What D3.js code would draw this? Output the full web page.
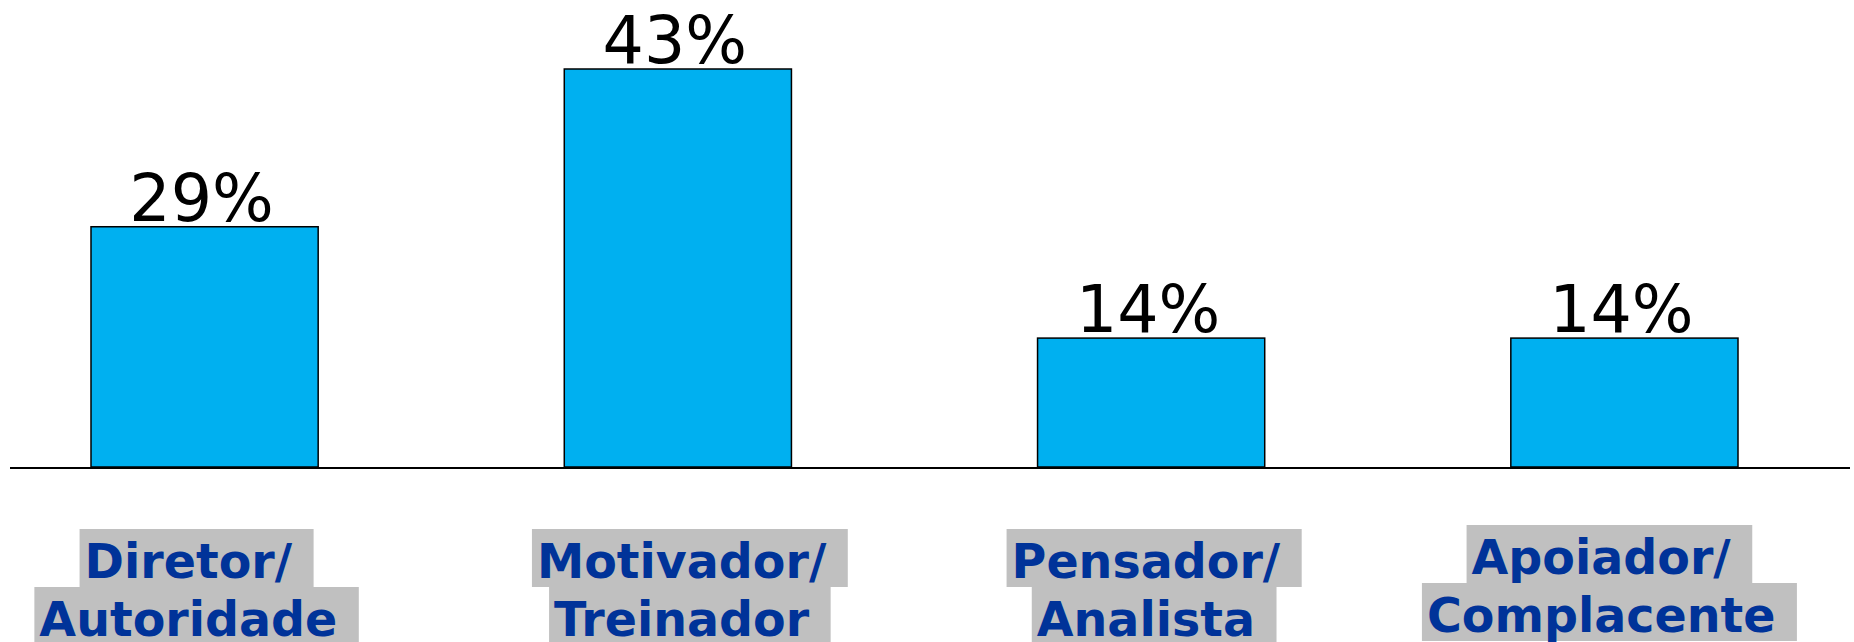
<!DOCTYPE html>
<html>
<head>
<meta charset="utf-8">
<script src="https://cdn.jsdelivr.net/npm/d3@7"></script>
<style>
  html, body { margin: 0; padding: 0; background: #fff; }
  svg { display: block; }
</style>
</head>
<body>
<div id="chart"></div>
<script>
// categories (two lines each, trailing space kept like the source)
var categories = ["Diretor/ Autoridade", "Motivador/ Treinador", "Pensador/ Analista", "Apoiador/ Complacente"];
var categoryLines = [["Diretor/ ", "Autoridade "], ["Motivador/ ", "Treinador "], ["Pensador/ ", "Analista "], ["Apoiador/ ", "Complacente "]];
// bar heights as drawn in the picture (percent)
var barValues = [26, 43, 14, 14];
// value labels printed above the bars
var valueLabels = ["29%", "43%", "14%", "14%"];

var width = 1854, height = 642;
var baseY = 468;

var svg = d3.select("#chart")
    .append("svg")
    .attr("width", width)
    .attr("height", height);

var x = d3.scaleBand()
    .domain(categories)
    .range([91, 1738])
    .paddingInner(0.52)
    .paddingOuter(0);

var y = d3.scaleLinear()
    .domain([0, 43])
    .range([baseY, 69]);

var data = categories.map(function (c, i) {
    return { cat: c, value: barValues[i], label: valueLabels[i], lines: categoryLines[i] };
});

// bars
svg.append("g")
    .selectAll("rect")
    .data(data)
    .enter()
    .append("rect")
    .attr("x", function (d) { return x(d.cat); })
    .attr("y", function (d) { return y(d.value); })
    .attr("width", x.bandwidth())
    .attr("height", function (d) { return y(0) - y(d.value) - 1; })
    .style("fill", "#00B0F0")
    .style("stroke", "#000")
    .style("stroke-width", 1.5);

// baseline
svg.append("line")
    .attr("x1", 10).attr("x2", 1850)
    .attr("y1", baseY).attr("y2", baseY)
    .style("stroke", "#000")
    .style("stroke-width", 2);

// value labels
svg.append("g")
    .selectAll("text")
    .data(data)
    .enter()
    .append("text")
    .attr("x", function (d) { return x(d.cat) + x.bandwidth() / 2 - 3; })
    .attr("y", function (d) { return y(d.value) - 6; })
    .attr("text-anchor", "middle")
    .style("font-family", "'DejaVu Sans', Verdana, sans-serif")
    .style("font-size", "65px")
    .style("fill", "#000")
    .text(function (d) { return d.label; });

// category labels with grey highlight per line
var labelShift = [-8, 12, 3, -15];
var labelLift = [0, 0, 0, -4];
var catFont = 47.5, lineGap = 58, firstBase = 578;

var cat = svg.append("g")
    .selectAll("g")
    .data(data)
    .enter()
    .append("g")
    .attr("transform", function (d, i) {
        return "translate(" + (x(d.cat) + x.bandwidth() / 2 + labelShift[i]) + "," + labelLift[i] + ")";
    });

cat.each(function (d) {
    var g = d3.select(this);
    d.lines.forEach(function (line, k) {
        var base = firstBase + k * lineGap;
        var bg = g.append("rect");
        var t = g.append("text")
            .attr("x", 0)
            .attr("y", base)
            .attr("text-anchor", "middle")
            .attr("xml:space", "preserve")
            .style("white-space", "pre")
            .style("font-family", "'DejaVu Sans', Verdana, sans-serif")
            .style("font-weight", "bold")
            .style("font-size", catFont + "px")
            .style("fill", "#003399")
            .text(line);
        var w = t.node().getComputedTextLength();
        bg.attr("x", -w / 2 - 5)
            .attr("y", base - 49)
            .attr("width", w + 10)
            .attr("height", lineGap)
            .style("fill", "#C0C0C0");
    });
});
</script>
</body>
</html>
